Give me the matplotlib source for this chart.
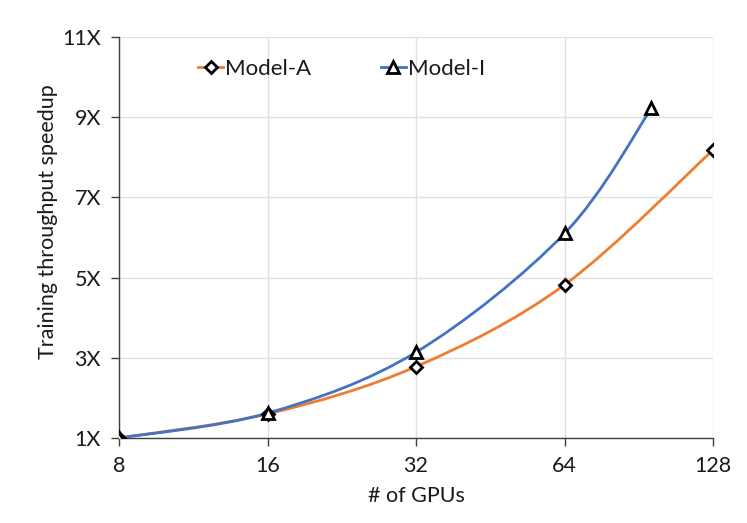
import matplotlib
matplotlib.use("Agg")
import matplotlib.pyplot as plt
import numpy as np
from matplotlib.path import Path
from matplotlib.patches import PathPatch
from matplotlib.lines import Line2D

plt.rcParams["font.family"] = ["Lato", "DejaVu Sans"]

gpus_a = [8, 16, 32, 64, 128]
speedup_a = [1.0, 1.6, 2.78, 4.82, 8.18]
gpus_i = [8, 16, 32, 64, 96]
speedup_i = [1.0, 1.62, 3.14, 6.1, 9.22]

x_ticks = [8, 16, 32, 64, 128]
y_ticks = [1, 3, 5, 7, 9, 11]

color_a = "#ED7D31"
color_i = "#4472C4"


def smooth_path(xs, ys):
    # Excel-style smoothed line: cubic bezier, control points from neighbours
    u = np.log2(xs)
    v = np.asarray(ys, dtype=float)
    n = len(u)
    verts = [(u[0], v[0])]
    codes = [Path.MOVETO]
    for i in range(n - 1):
        p0 = max(i - 1, 0)
        p3 = min(i + 2, n - 1)
        c1 = (u[i] + (u[i + 1] - u[p0]) / 6, v[i] + (v[i + 1] - v[p0]) / 6)
        c2 = (u[i + 1] - (u[p3] - u[i]) / 6, v[i + 1] - (v[p3] - v[i]) / 6)
        verts += [c1, c2, (u[i + 1], v[i + 1])]
        codes += [Path.CURVE4] * 3
    verts = [(2 ** a, b) for a, b in verts]
    return Path(verts, codes)


fig = plt.figure(figsize=(7.47, 5.23), dpi=100)
ax = fig.add_axes([0.1593, 0.1625, 0.7952, 0.7668])
ax.set_xscale("log", base=2)

for xs, ys, col in [(gpus_a, speedup_a, color_a), (gpus_i, speedup_i, color_i)]:
    ax.add_patch(PathPatch(smooth_path(xs, ys), facecolor="none", edgecolor=col,
                           lw=2.0, capstyle="round", zorder=3))

ax.plot(gpus_a, speedup_a, ls="none", marker="D", ms=6, mfc="white",
        mec="black", mew=2.0, zorder=4)
ax.plot(gpus_i, speedup_i, ls="none", marker="^", ms=8, mfc="white",
        mec="black", mew=2.0, zorder=4)

ax.set_xlim(8, 128)
ax.set_ylim(1, 11)
ax.set_xticks(x_ticks)
ax.set_xticklabels([str(t) for t in x_ticks])
ax.xaxis.set_minor_locator(matplotlib.ticker.NullLocator())
ax.set_yticks(y_ticks)
ax.set_yticklabels([f"{t}X" for t in y_ticks])

ax.grid(True, color="#E0E0E0", lw=1.0)
ax.set_axisbelow(True)
for s in ["top", "right"]:
    ax.spines[s].set_visible(False)
for s in ["left", "bottom"]:
    ax.spines[s].set_color("#404040")
    ax.spines[s].set_linewidth(1.0)
ax.tick_params(axis="both", direction="out", length=6, width=1.0,
               color="#404040", labelsize=15.5, labelcolor="#1a1a1a", pad=7)

ax.set_xlabel("# of GPUs", fontsize=15.5, labelpad=7, color="#1a1a1a")
ax.set_ylabel("Training throughput speedup", fontsize=15.5, color="#1a1a1a")
ax.yaxis.set_label_coords(-0.103, 0.54)

handles = [
    Line2D([], [], color=color_a, lw=2.0, marker="D", ms=6, mfc="white",
           mec="black", mew=2.0),
    Line2D([], [], color=color_i, lw=2.0, marker="^", ms=8, mfc="white",
           mec="black", mew=2.0),
]
leg = ax.legend(handles, ["Model-A", "Model-I"], ncol=2, frameon=False,
                fontsize=16, loc="upper left", bbox_to_anchor=(0.1, 0.995),
                handlelength=1.1, handletextpad=0.1, columnspacing=3.15)
for t in leg.get_texts():
    t.set_color("#1a1a1a")

fig.savefig("out.png", dpi=100)
